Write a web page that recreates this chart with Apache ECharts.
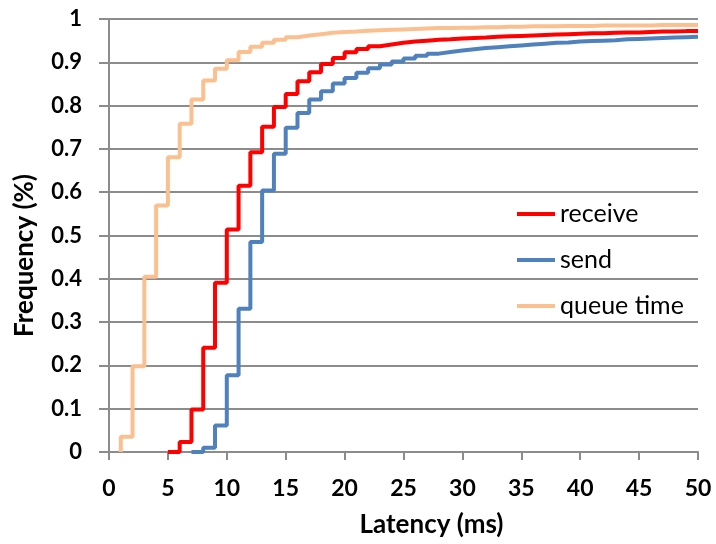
<!DOCTYPE html>
<html>
<head>
<meta charset="utf-8">
<script src="https://cdn.jsdelivr.net/npm/echarts@6/dist/echarts.min.js"></script>
<style>
  html, body { margin: 0; padding: 0; background: #ffffff; }
  #chart { width: 716px; height: 544px; }
</style>
</head>
<body>
<div id="chart"></div>
<script>
// Latency buckets in milliseconds
const latency = [0, 1, 2, 3, 4, 5, 6, 7, 8, 9, 10, 11, 12, 13, 14, 15, 16, 17, 18, 19, 20,
  21, 22, 23, 24, 25, 26, 27, 28, 29, 30, 31, 32, 33, 34, 35, 36, 37, 38, 39, 40,
  41, 42, 43, 44, 45, 46, 47, 48, 49, 50];

// Cumulative fraction of messages at or below each latency (null = no samples yet)
const receive = [null, null, null, null, null, 0, 0.023, 0.098, 0.241, 0.391, 0.514,
  0.615, 0.692, 0.751, 0.797, 0.827, 0.856, 0.877, 0.896, 0.910, 0.923,
  0.931, 0.937, 0.941, 0.945, 0.948, 0.950, 0.952, 0.953, 0.955, 0.956,
  0.957, 0.959, 0.960, 0.961, 0.962, 0.963, 0.964, 0.965, 0.966, 0.967,
  0.967, 0.968, 0.969, 0.969, 0.970, 0.971, 0.971, 0.972, 0.972, 0.973];

const send = [null, null, null, null, null, null, null, 0, 0.010, 0.061, 0.177,
  0.331, 0.485, 0.604, 0.689, 0.749, 0.783, 0.814, 0.833, 0.851, 0.864,
  0.876, 0.886, 0.895, 0.902, 0.909, 0.915, 0.920, 0.924, 0.927, 0.930,
  0.933, 0.935, 0.937, 0.939, 0.941, 0.943, 0.945, 0.946, 0.948, 0.949,
  0.950, 0.951, 0.953, 0.954, 0.955, 0.956, 0.957, 0.958, 0.959, 0.960];

const queueTime = [null, 0.035, 0.198, 0.405, 0.569, 0.681, 0.758, 0.814, 0.858, 0.885, 0.905,
  0.924, 0.936, 0.945, 0.952, 0.958, 0.962, 0.965, 0.968, 0.970, 0.971,
  0.973, 0.974, 0.975, 0.976, 0.977, 0.978, 0.979, 0.979, 0.980, 0.980,
  0.981, 0.981, 0.982, 0.982, 0.983, 0.983, 0.983, 0.984, 0.984, 0.984,
  0.985, 0.985, 0.985, 0.985, 0.985, 0.986, 0.986, 0.986, 0.986, 0.986];

const seriesNames = ['receive', 'send', 'queue time'];
const seriesColors = ['#ff0000', '#4f81bd', '#fac090'];

// Pair each value with its latency; a curve that opens above zero rises from the axis
function toSteps(values) {
  const pts = [];
  values.forEach((v, i) => {
    if (v === null) return;
    if (pts.length === 0 && v > 0) pts.push([latency[i], 0]);
    pts.push([latency[i], v]);
  });
  return pts;
}

const font = 'Lato, "Liberation Sans", sans-serif';
const gridGray = '#8c8c8c';

const chart = echarts.init(document.getElementById('chart'), null, { renderer: 'canvas' });

chart.setOption({
  animation: false,
  backgroundColor: '#ffffff',
  grid: { left: 109, right: 18, top: 19, bottom: 92, outerBoundsMode: 'none', containLabel: false },
  legend: {
    orient: 'vertical',
    left: 517,
    top: 201,
    padding: 0,
    itemWidth: 38,
    itemHeight: 4,
    itemGap: 20,
    icon: 'rect',
    textStyle: { fontFamily: font, fontSize: 25, lineHeight: 26, color: '#000000' },
    data: seriesNames
  },
  xAxis: {
    type: 'value',
    min: 0,
    max: 50,
    interval: 5,
    name: 'Latency (ms)',
    nameLocation: 'middle',
    nameGap: 60,
    nameTextStyle: { fontFamily: font, fontSize: 26, fontWeight: 'bold', color: '#000000', padding: [0, 0, 0, 56] },
    axisLine: { show: true, lineStyle: { color: gridGray, width: 2 } },
    axisTick: { show: true, length: 8, lineStyle: { color: gridGray, width: 2 } },
    axisLabel: { margin: 25, fontFamily: font, fontSize: 23, fontWeight: 'bold', color: '#000000' },
    splitLine: { show: false }
  },
  yAxis: {
    type: 'value',
    min: 0,
    max: 1,
    interval: 0.1,
    name: 'Frequency (%)',
    nameLocation: 'middle',
    nameGap: 71,
    nameTextStyle: { fontFamily: font, fontSize: 26, fontWeight: 'bold', color: '#000000', padding: [0, 40, 0, 0] },
    axisLine: { show: true, lineStyle: { color: gridGray, width: 2 } },
    axisTick: { show: true, length: 10, lineStyle: { color: gridGray, width: 2 } },
    axisLabel: { margin: 27, fontFamily: font, fontSize: 22, fontWeight: 'bold', color: '#000000' },
    splitLine: { show: true, lineStyle: { color: gridGray, width: 2 } }
  },
  series: [receive, send, queueTime].map((vals, k) => ({
    name: seriesNames[k],
    type: 'line',
    step: 'end',
    showSymbol: false,
    symbol: 'none',
    color: seriesColors[k],
    lineStyle: { color: seriesColors[k], width: 4 },
    data: toSteps(vals)
  }))
});
</script>
</body>
</html>
